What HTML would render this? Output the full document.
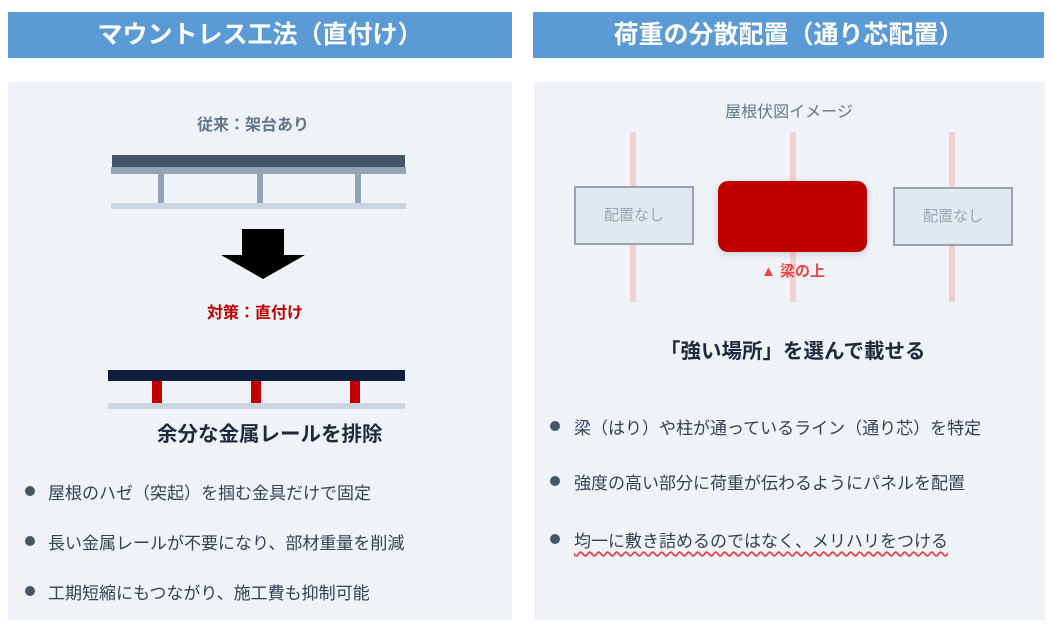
<!DOCTYPE html>
<html><head><meta charset="utf-8"><style>
body{margin:0;width:1053px;height:628px;background:#fff;position:relative;overflow:hidden;font-family:"Liberation Sans","Noto Sans CJK JP",sans-serif}
div{position:absolute;box-sizing:border-box}
.hd{background:#5b9bd5;color:#fff;font-size:25px;font-weight:bold;text-align:center;line-height:46px;top:12px;height:46px;white-space:nowrap}
.pn{background:#eff3f8;top:82px;height:538px}
.c{text-align:center;white-space:nowrap}
.b{font-size:17px;color:#334155;white-space:nowrap}
.dot{width:10px;height:10px;border-radius:50%;background:#475569}
.pl{background:#f2d0d3;width:6px;top:132px;height:170px}
.bx{background:#e2e8f0;border:2px solid #94a3b8;color:#9aa5b5;font-size:15px;text-align:center}
</style></head><body>
<div class="hd" style="left:8px;width:504px">マウントレス工法（直付け）</div>
<div class="hd" style="left:533px;width:511px">荷重の分散配置（通り芯配置）</div>
<div class="pn" style="left:8px;width:504px"></div>
<div class="pn" style="left:534px;width:511px"></div>

<div class="c" style="left:153px;width:200px;top:111px;font-size:16px;font-weight:bold;color:#64748b">従来：架台あり</div>
<div style="left:112px;top:155px;width:293px;height:12px;background:#475569"></div>
<div style="left:111px;top:167px;width:295px;height:7px;background:#94a3b8"></div>
<div style="left:158px;top:174px;width:6px;height:29px;background:#94a3b8"></div>
<div style="left:257px;top:174px;width:6px;height:29px;background:#94a3b8"></div>
<div style="left:355px;top:174px;width:6px;height:29px;background:#94a3b8"></div>
<div style="left:111px;top:203px;width:295px;height:6px;background:#cbd5e1"></div>
<svg style="position:absolute;left:220px;top:228px" width="86" height="52"><polygon points="22,1 64,1 64,27 85,27 43,51 1,27 22,27" fill="#000"/></svg>
<div class="c" style="left:155px;width:200px;top:299px;font-size:16px;font-weight:bold;color:#c00000">対策：直付け</div>
<div style="left:108px;top:370px;width:297px;height:11px;background:#0f1f3d"></div>
<div style="left:152px;top:381px;width:10px;height:22px;background:#c00000"></div>
<div style="left:251px;top:381px;width:10px;height:22px;background:#c00000"></div>
<div style="left:350px;top:381px;width:10px;height:22px;background:#c00000"></div>
<div style="left:108px;top:403px;width:297px;height:6px;background:#cbd5e1"></div>
<div style="left:157px;top:417px;font-size:20.5px;font-weight:bold;color:#1e293b;white-space:nowrap">余分な金属レールを排除</div>
<div class="dot" style="left:25px;top:486px"></div><div class="b" style="left:48px;top:479px">屋根のハゼ（突起）を掴む金具だけで固定</div>
<div class="dot" style="left:25px;top:536px"></div><div class="b" style="left:48px;top:529px">長い金属レールが不要になり、部材重量を削減</div>
<div class="dot" style="left:25px;top:586px"></div><div class="b" style="left:48px;top:579px">工期短縮にもつながり、施工費も抑制可能</div>

<div class="c" style="left:689px;width:200px;top:98px;font-size:16px;color:#64748b">屋根伏図イメージ</div>
<div class="pl" style="left:630px"></div>
<div class="pl" style="left:790px"></div>
<div class="pl" style="left:949px"></div>
<div class="bx" style="left:574px;top:186px;width:120px;height:59px;line-height:55px">配置なし</div>
<div class="bx" style="left:893px;top:187px;width:120px;height:59px;line-height:55px">配置なし</div>
<div style="left:718px;top:181px;width:149px;height:71px;background:#c00000;border-radius:10px;box-shadow:0 2px 8px rgba(0,0,0,.15)"></div>
<div class="c" style="left:693px;width:200px;top:260px;font-size:15px;font-weight:bold;color:#ef4444">▲ 梁の上</div>
<div style="left:660px;top:334px;font-size:20.5px;font-weight:bold;color:#1e293b;white-space:nowrap">「強い場所」を選んで載せる</div>
<div class="dot" style="left:550px;top:421px"></div><div class="b" style="left:574px;top:414px">梁（はり）や柱が通っているライン（通り芯）を特定</div>
<div class="dot" style="left:550px;top:476px"></div><div class="b" style="left:574px;top:469px">強度の高い部分に荷重が伝わるようにパネルを配置</div>
<div class="dot" style="left:550px;top:534px"></div><div class="b" style="left:574px;top:527px;text-decoration:underline wavy #e04040;text-underline-offset:4px">均一に敷き詰めるのではなく、メリハリをつける</div>
</body></html>
